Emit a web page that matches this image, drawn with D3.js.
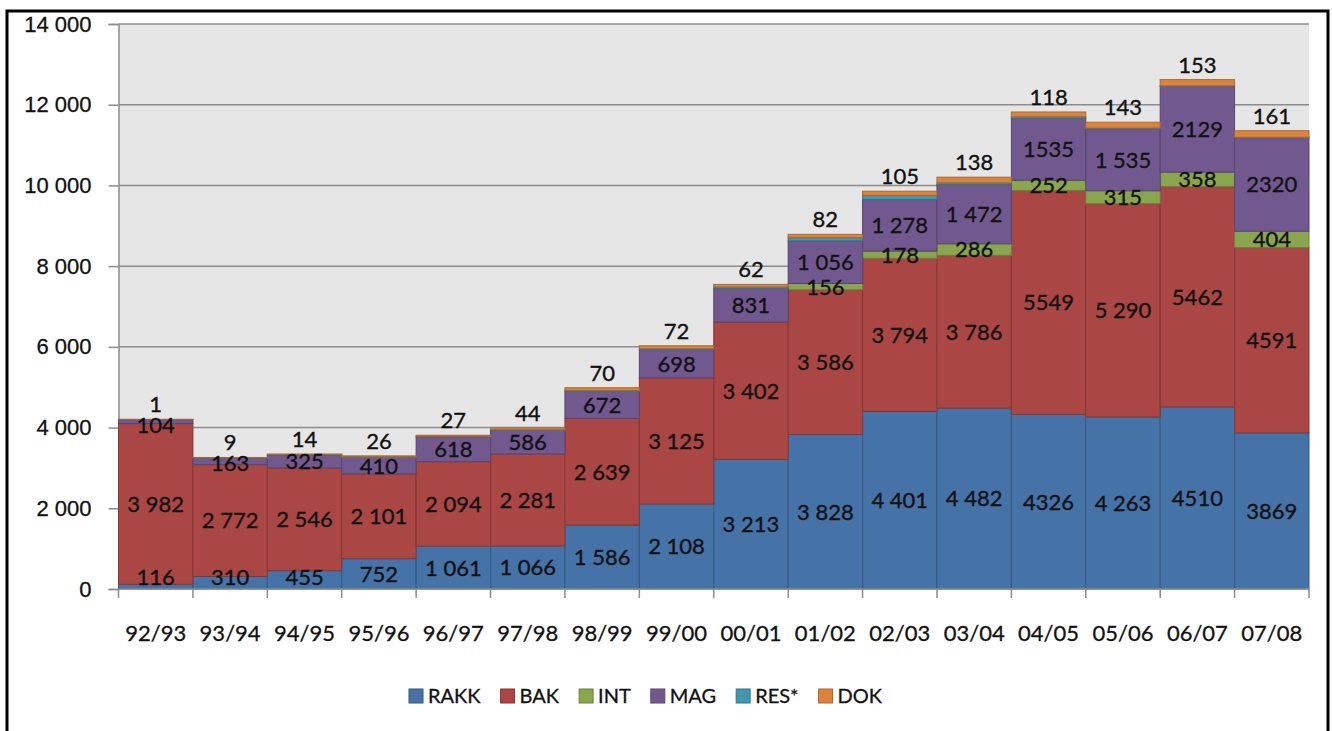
<!DOCTYPE html>
<html>
<head>
<meta charset="utf-8">
<script src="https://cdn.jsdelivr.net/npm/d3@7"></script>
<style>
  body { margin: 0; background: #fff; }
  svg { display: block; font-family: Lato, 'Open Sans', sans-serif; }
</style>
</head>
<body>
<svg width="1332" height="731"></svg>
<script>
const years = ['92/93', '93/94', '94/95', '95/96', '96/97', '97/98', '98/99', '99/00',
  '00/01', '01/02', '02/03', '03/04', '04/05', '05/06', '06/07', '07/08']
const rakk = [116, 310, 455, 752, 1061, 1066, 1586, 2108, 3213, 3828, 4401, 4482, 4326, 4263, 4510, 3869]
const bak = [3982, 2772, 2546, 2101, 2094, 2281, 2639, 3125, 3402, 3586, 3794, 3786, 5549, 5290, 5462, 4591]
const int = [0, 0, 0, 0, 0, 0, 0, 0, 0, 156, 178, 286, 252, 315, 358, 404]
const mag = [104, 163, 325, 410, 618, 586, 672, 698, 831, 1056, 1278, 1472, 1535, 1535, 2129, 2320]
// RES* carries no labels in the source, values are read from segment heights
const res = [0, 5, 5, 10, 10, 15, 20, 25, 40, 80, 100, 40, 40, 20, 10, 10]
const dok = [1, 9, 14, 26, 27, 44, 70, 72, 62, 82, 105, 138, 118, 143, 153, 161]
const yTicks = [0, 2000, 4000, 6000, 8000, 10000, 12000, 14000]
// years whose labels are printed without a thousands space
const plainYears = ['04/05', '06/07', '07/08']

const series = [
  { key: 'RAKK', values: rakk, color: '#4572a7', labels: true },
  { key: 'BAK', values: bak, color: '#aa4643', labels: true },
  { key: 'INT', values: int, color: '#89a54e', labels: true },
  { key: 'MAG', values: mag, color: '#71588f', labels: true },
  { key: 'RES*', values: res, color: '#4198af', labels: false },
  { key: 'DOK', values: dok, color: '#db843d', labels: true }
]

const rows = years.map((y, i) => {
  const r = { year: y }
  series.forEach(s => { r[s.key] = s.values[i] })
  return r
})

const svg = d3.select('svg')
const m = { left: 118.5, right: 1309, top: 24, bottom: 589 }

const x = d3.scaleBand().domain(years).range([m.left, m.right]).padding(0)
const y = d3.scaleLinear().domain([0, 14000]).range([m.bottom, m.top])

const spaced = n => n >= 1000 ? Math.floor(n / 1000) + ' ' + String(n % 1000).padStart(3, '0') : String(n)

// frame
svg.append('rect')
    .attr('x', 7).attr('y', 11)
    .attr('width', 1321).attr('height', 760)
    .attr('fill', 'none').attr('stroke', '#000').attr('stroke-width', 3)

// plot background
svg.append('rect')
    .attr('x', m.left).attr('y', m.top)
    .attr('width', m.right - m.left).attr('height', m.bottom - m.top)
    .attr('fill', '#e6e6e6')

// grid + y axis
const yAxis = svg.append('g')
    .attr('transform', 'translate(' + m.left + ',0)')
    .call(d3.axisLeft(y).tickValues(yTicks).tickSize(10).tickPadding(17).tickFormat(spaced))
yAxis.select('.domain').attr('stroke', '#8c8c8c').attr('stroke-width', 1.5)
yAxis.selectAll('.tick line').attr('stroke', '#8c8c8c').attr('stroke-width', 1.5)
yAxis.selectAll('.tick text')
    .style('font-size', '22px').attr('fill', '#111')
    .attr('stroke', '#111').attr('stroke-width', 0.3)

svg.append('g').selectAll('line')
  .data(yTicks.filter(t => t > 0))
  .enter().append('line')
    .attr('x1', m.left).attr('x2', m.right)
    .attr('y1', d => y(d)).attr('y2', d => y(d))
    .attr('stroke', '#8c8c8c').attr('stroke-width', 1.5)

// stacked bars
const stack = d3.stack().keys(series.map(s => s.key))(rows)

const layers = svg.append('g').selectAll('g')
  .data(stack)
  .enter().append('g')
    .attr('fill', (d, i) => series[i].color)
    .attr('stroke', (d, i) => d3.color(series[i].color).darker(0.7))

layers.selectAll('rect')
  .data(d => d)
  .enter().append('rect')
    .attr('x', d => x(d.data.year))
    .attr('width', x.bandwidth())
    .attr('y', d => y(d[1]))
    .attr('height', d => y(d[0]) - y(d[1]))
    .attr('stroke-width', 1)

// x axis
const xEdges = years.map(v => x(v)).concat([m.right])
svg.append('g').selectAll('line')
  .data(xEdges)
  .enter().append('line')
    .attr('x1', d => d).attr('x2', d => d)
    .attr('y1', m.bottom).attr('y2', m.bottom + 9)
    .attr('stroke', '#8c8c8c').attr('stroke-width', 1.5)
svg.append('line')
    .attr('x1', m.left).attr('x2', m.right)
    .attr('y1', m.bottom).attr('y2', m.bottom)
    .attr('stroke', '#8c8c8c').attr('stroke-width', 1.5)
svg.append('g').selectAll('text')
  .data(years)
  .enter().append('text')
    .attr('x', d => x(d) + x.bandwidth() / 2)
    .attr('y', 641)
    .attr('text-anchor', 'middle')
    .style('font-size', '22px')
    .attr('fill', '#111').attr('stroke', '#111').attr('stroke-width', 0.3)
    .text(d => d)

// data labels: centred in the segment, DOK sits above the bar,
// then pushed down within a bar so they don't sit on top of each other
const labelData = []
years.forEach((yr, i) => {
  const col = []
  stack.forEach((layer, si) => {
    if (!series[si].labels) return
    const d = layer[i]
    const v = d[1] - d[0]
    if (!v) return
    let cy = (y(d[0]) + y(d[1])) / 2
    if (series[si].key === 'DOK') cy = y(d[1]) - 15
    const plain = plainYears.includes(yr)
    col.push({ x: x(yr) + x.bandwidth() / 2, y: cy, text: plain ? String(v) : spaced(v) })
  })
  col.reverse()
  for (let k = 1; k < col.length; k++) {
    col[k].y = Math.max(col[k].y, col[k - 1].y + 21)
  }
  col.forEach(c => { c.y = Math.min(c.y, m.bottom - 12) })
  labelData.push(...col)
})

svg.append('g').selectAll('text')
  .data(labelData)
  .enter().append('text')
    .attr('x', d => d.x)
    .attr('y', d => d.y)
    .attr('dy', '0.36em')
    .attr('text-anchor', 'middle')
    .style('font-size', '22px')
    .attr('fill', '#111').attr('stroke', '#111').attr('stroke-width', 0.35)
    .text(d => d.text)

// legend
const legend = svg.append('g').attr('transform', 'translate(409,696)')
let lx = 0
series.forEach(s => {
  const g = legend.append('g').attr('transform', 'translate(' + lx + ',0)')
  g.append('rect')
      .attr('x', 0).attr('y', -7).attr('width', 14).attr('height', 14)
      .attr('fill', s.color).attr('stroke', d3.color(s.color).darker(0.7)).attr('stroke-width', 1)
  const t = g.append('text')
      .attr('x', 19).attr('y', 0).attr('dy', '0.36em')
      .style('font-size', '20px').attr('fill', '#111')
      .attr('stroke', '#111').attr('stroke-width', 0.3)
      .text(s.key)
  lx += 19 + t.node().getComputedTextLength() + 20
})
</script>
</body>
</html>
